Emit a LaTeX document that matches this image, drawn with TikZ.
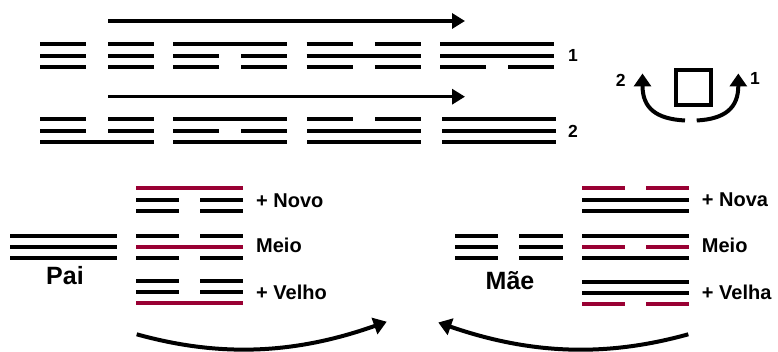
\documentclass[tikz,border=0pt]{standalone}
\usepackage{fontspec}
\setmainfont{Liberation Sans}
\usepackage{tikz}
\usetikzlibrary{arrows.meta}

\definecolor{vermelho}{RGB}{153,0,51}

\tikzset{
	traco/.style={line width=4pt},
	seta/.style={line width=3.5pt,-{Triangle[length=13pt,width=15pt]}},
	curva/.style={line width=4pt,-{Triangle[length=13pt,width=17pt]}},
	rotulo/.style={inner sep=0pt,font=\bfseries\fontsize{20}{24}\selectfont},
	nome/.style={inner sep=0pt,font=\bfseries\fontsize{25}{30}\selectfont},
	numero/.style={inner sep=0pt,font=\bfseries\fontsize{17.5}{21}\selectfont}
}

\newcommand{\yang}[4][black]{\draw[traco,#1] (#2,#3) -- ++(#4,0);}
\newcommand{\yin}[4][black]{\draw[traco,#1] (#2,#3) -- ++({0.403*#4},0) ++({0.194*#4},0) -- ++({0.403*#4},0);}
\newcommand{\gua}[5]{\foreach \tipo [count=\n from 0] in {#5} {\tipo{#1}{#2-#4*\n}{#3}}}

\begin{document}
\begin{tikzpicture}[x=1pt,y=1pt]
	\useasboundingbox (0,0) rectangle (778,352);

	\gua{40}{308}{114}{11.6}{\yin,\yin,\yin}
	\gua{173.3}{308}{114}{11.6}{\yang,\yin,\yin}
	\gua{306.7}{308}{114}{11.6}{\yin,\yang,\yin}
	\gua{440}{308}{114}{11.6}{\yang,\yang,\yin}

	\gua{40}{233}{114}{11.6}{\yin,\yin,\yang}
	\gua{173.3}{233}{114}{11.6}{\yang,\yin,\yang}
	\gua{307}{233}{114}{11.6}{\yin,\yang,\yang}
	\gua{442.3}{233}{114}{11.6}{\yang,\yang,\yang}

	\coordinate (a1) at (108,331);
	\coordinate (b1) at (465,331);
	\coordinate (a2) at (108,255.3);
	\coordinate (b2) at (465,255.3);
	\draw[seta] (a1) -- (b1);
	\draw[seta] (a2) -- (b2);

	\node[numero] (um) at (573,297) {1};
	\node[numero] (dois) at (573,220.5) {2};

	\node[draw,line width=4pt,minimum size=35pt,inner sep=0pt] (quadrado) at (693.5,264.5) {};
	\coordinate (qe) at (685,231.5);
	\coordinate (qd) at (696.7,231.5);
	\coordinate (pe) at (642.5,278.5);
	\coordinate (pd) at (738.3,278.5);
	\draw[curva] (qe) .. controls (656,233) and (642.5,244) .. (pe);
	\draw[curva] (qd) .. controls (725,233) and (738.3,244) .. (pd);
	\node[numero] (dois') at (620.7,272) {2};
	\node[numero] (um') at (755,273.7) {1};

	\gua{10}{116.3}{107}{11}{\yang,\yang,\yang}
	\node[nome,anchor=base] (pai) at (65,67.7) {Pai};

	\gua{136}{163.7}{107.3}{11.3}{\yang[vermelho],\yin,\yin}
	\gua{136}{116.3}{107.3}{11}{\yin,\yang[vermelho],\yin}
	\gua{136}{71}{107.3}{11.2}{\yin,\yin,\yang[vermelho]}
	\node[rotulo,anchor=base west] (novo) at (256,144.7) {+ Novo};
	\node[rotulo,anchor=base west] (meio) at (256,99.3) {Meio};
	\node[rotulo,anchor=base west] (velho) at (256,52) {+ Velho};

	\gua{455}{116.3}{107.7}{11}{\yin,\yin,\yin}
	\node[nome,anchor=base] (mae) at (510,62.7) {Mãe};

	\gua{582.3}{163.7}{106.7}{11.3}{\yin[vermelho],\yang,\yang}
	\gua{582.3}{116.3}{106.7}{11}{\yang,\yin[vermelho],\yang}
	\gua{582.3}{70.3}{106.7}{11.2}{\yang,\yang,\yin[vermelho]}
	\node[rotulo,anchor=base west] (nova) at (701.7,145.3) {+ Nova};
	\node[rotulo,anchor=base west] (meio') at (701.7,99.3) {Meio};
	\node[rotulo,anchor=base west] (velha) at (701.7,52) {+ Velha};

	\coordinate (ie) at (136.7,17.7);
	\coordinate (fe) at (386.7,30.3);
	\coordinate (id) at (688.3,17.7);
	\coordinate (fd) at (438.3,29.5);
	\draw[curva] (ie) .. controls (215,-4) and (290,-4) .. (fe);
	\draw[curva] (id) .. controls (610,-4) and (535,-4) .. (fd);
\end{tikzpicture}
\end{document}
